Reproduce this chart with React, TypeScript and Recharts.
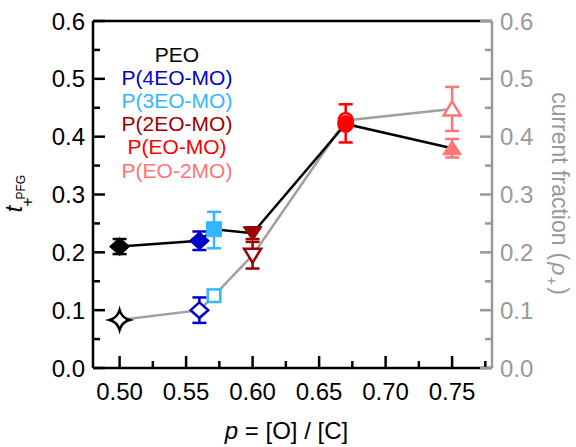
import React from 'react';
import { ComposedChart, Scatter, XAxis, YAxis, ErrorBar } from 'recharts';

const polymers = ['PEO', 'P(4EO-MO)', 'P(3EO-MO)', 'P(2EO-MO)', 'P(EO-MO)', 'P(EO-2MO)'];
const polymerColors = ['#000000', '#0000c8', '#33b6ff', '#9b0000', '#ff0000', '#ff7575'];
const tPlusMarkers = ['diamond', 'diamond', 'square', 'triangleDown', 'circle', 'triangleUp'];
const cfMarkers = ['star', 'diamond', 'square', 'triangleDown', 'circle', 'triangleUp'];
const pValues = [0.5, 0.56, 0.571, 0.6, 0.67, 0.75];
const tPlus = [0.21, 0.22, 0.24, 0.233, 0.422, 0.38];
const tPlusErrLow = [0.013, 0.016, 0.033, 0.01, 0.032, 0.016];
const tPlusErrHigh = [0.013, 0.016, 0.03, 0.01, 0.034, 0.016];
const currentFraction = [0.083, 0.1, 0.125, 0.195, 0.428, 0.448];
const cfErrLow = [0, 0.022, 0, 0.023, 0, 0.038];
const cfErrHigh = [0, 0.022, 0, 0.023, 0, 0.038];
const xMajorTicks = [0.5, 0.55, 0.6, 0.65, 0.7, 0.75];
const xMinorTicks = [0.525, 0.575, 0.625, 0.675, 0.725, 0.775];
const yMajorTicks = [0, 0.1, 0.2, 0.3, 0.4, 0.5, 0.6];
const yMinorTicks = [0.05, 0.15, 0.25, 0.35, 0.45, 0.55];

const W = 576;
const H = 447;
const FONT = '"Liberation Sans", Arial, sans-serif';
const GREY = '#999999';

const xTicks = [...xMajorTicks, ...xMinorTicks].sort((a, b) => a - b);
const yTicks = [...yMajorTicks, ...yMinorTicks].sort((a, b) => a - b);
const isMajorX = (v: number) => xMajorTicks.some((t) => Math.abs(t - v) < 1e-9);
const isMajorY = (v: number) => yMajorTicks.some((t) => Math.abs(t - v) < 1e-9);

const tPlusData = pValues.map((p, i) => ({ p, v: tPlus[i], err: [tPlusErrLow[i], tPlusErrHigh[i]] }));
const cfData = pValues.map((p, i) => ({ p, v: currentFraction[i], err: [cfErrLow[i], cfErrHigh[i]] }));

function drawMarker(kind: string, color: string, filled: boolean, cx: number, cy: number) {
  const fill = filled ? color : '#ffffff';
  const sw = filled ? 1 : 2.5;
  switch (kind) {
    case 'diamond': {
      const w = filled ? 10 : 8.8;
      const h = filled ? 9 : 7.8;
      return (
        <path
          d={`M${cx},${cy - h}L${cx + w},${cy}L${cx},${cy + h}L${cx - w},${cy}Z`}
          fill={fill}
          stroke={color}
          strokeWidth={sw}
          strokeLinejoin="miter"
        />
      );
    }
    case 'star': {
      const r = 10;
      const c = 2.2;
      return (
        <path
          d={`M${cx},${cy - r}Q${cx + c},${cy - c} ${cx + r},${cy}Q${cx + c},${cy + c} ${cx},${cy + r}Q${cx - c},${cy + c} ${cx - r},${cy}Q${cx - c},${cy - c} ${cx},${cy - r}Z`}
          fill={fill}
          stroke={color}
          strokeWidth={sw}
        />
      );
    }
    case 'square': {
      const s = filled ? 7.5 : 6.3;
      return <rect x={cx - s} y={cy - s} width={2 * s} height={2 * s} fill={fill} stroke={color} strokeWidth={sw} />;
    }
    case 'triangleDown': {
      const w = filled ? 9.5 : 8.5;
      const t = 6.5;
      const b = 7.5;
      return (
        <path
          d={`M${cx - w},${cy - t}L${cx + w},${cy - t}L${cx},${cy + b}Z`}
          fill={fill}
          stroke={color}
          strokeWidth={sw}
        />
      );
    }
    case 'triangleUp': {
      const w = filled ? 9.5 : 8.5;
      const t = 7.5;
      const b = 6.5;
      return (
        <path
          d={`M${cx - w},${cy + b}L${cx + w},${cy + b}L${cx},${cy - t}Z`}
          fill={fill}
          stroke={color}
          strokeWidth={sw}
        />
      );
    }
    case 'circle':
    default:
      return <ellipse cx={cx} cy={cy} rx={filled ? 8 : 7} ry={filled ? 8.5 : 7.5} fill={fill} stroke={color} strokeWidth={sw} />;
  }
}

const BottomTick = (props: any) => {
  const { x, y, payload } = props;
  const v = payload.value;
  const major = isMajorX(v);
  return (
    <g>
      <line x1={x} x2={x} y1={y} y2={y - (major ? 12 : 7)} stroke="#000" strokeWidth={2.5} />
      {major && (
        <text x={x} y={y + 32} textAnchor="middle" fontSize={24} fontFamily={FONT} fill="#000">
          {v.toFixed(2)}
        </text>
      )}
    </g>
  );
};

const TopTick = (props: any) => {
  const { x, y, payload } = props;
  const major = isMajorX(payload.value);
  return <line x1={x} x2={x} y1={y} y2={y + (major ? 12 : 7)} stroke="#000" strokeWidth={2.5} />;
};

const LeftTick = (props: any) => {
  const { x, y, payload } = props;
  const v = payload.value;
  const major = isMajorY(v);
  return (
    <g>
      <line x1={x} x2={x + (major ? 12 : 7)} y1={y} y2={y} stroke="#000" strokeWidth={2.5} />
      {major && (
        <text x={x - 8} y={y} dy="0.36em" textAnchor="end" fontSize={24} fontFamily={FONT} fill="#000">
          {v.toFixed(1)}
        </text>
      )}
    </g>
  );
};

const RightTick = (props: any) => {
  const { x, y, payload } = props;
  const v = payload.value;
  const major = isMajorY(v);
  return (
    <g>
      <line x1={x} x2={x - (major ? 12 : 7)} y1={y} y2={y} stroke={GREY} strokeWidth={2.5} />
      {major && (
        <text x={x + 8} y={y} dy="0.36em" textAnchor="start" fontSize={24} fontFamily={FONT} fill={GREY}>
          {v.toFixed(1)}
        </text>
      )}
    </g>
  );
};

const XLabel = (props: any) => {
  const vb = props.viewBox || { x: 93, y: 368, width: 399, height: 79 };
  return (
    <text x={vb.x + vb.width / 2 - 6} y={vb.y + 71} textAnchor="middle" fontSize={24} fontFamily={FONT} fill="#000">
      <tspan fontStyle="italic">p</tspan>
      <tspan> = [O] / [C]</tspan>
    </text>
  );
};

const LeftLabel = (props: any) => {
  const vb = props.viewBox || { x: 0, y: 21, width: 93, height: 347 };
  const cx = vb.x + 22;
  const cy = vb.y + vb.height / 2 - 1;
  return (
    <text transform={`translate(${cx},${cy}) rotate(-90)`} x={0} y={0} textAnchor="middle" fontFamily={FONT} fill="#000">
      <tspan fontSize={23} fontStyle="italic">t</tspan>
      <tspan fontSize={16} dy={11} dx={-1}>+</tspan>
      <tspan fontSize={12} dy={-8} dx={-2}>PFG</tspan>
    </text>
  );
};

const RightLabel = (props: any) => {
  const vb = props.viewBox || { x: 492, y: 21, width: 84, height: 347 };
  const cx = vb.x + 60;
  const cy = vb.y + vb.height / 2 - 1;
  return (
    <text transform={`translate(${cx},${cy}) rotate(90)`} x={0} y={0} textAnchor="middle" fontSize={23} fontFamily={FONT} fill={GREY}>
      <tspan>current fraction</tspan>
      <tspan dx={7}>(</tspan>
      <tspan fontStyle="italic" dx={2}>ρ</tspan>
      <tspan fontSize={15} dy={5} dx={1}>+</tspan>
      <tspan dy={-5} dx={2}>)</tspan>
    </text>
  );
};

const emptyShape = () => <g />;

export default function App() {
  return (
    <div style={{ position: 'absolute', left: 0, top: 0, width: W, height: H, background: '#fff' }}>
      <ComposedChart width={W} height={H} margin={{ top: 0, right: 0, bottom: 0, left: 0 }}>
        <XAxis
          xAxisId="bottom"
          dataKey="p"
          type="number"
          orientation="bottom"
          domain={[0.48, 0.78]}
          ticks={xTicks}
          interval={0}
          height={79}
          tickSize={0}
          tickMargin={0}
          tickLine={false}
          axisLine={{ stroke: '#000', strokeWidth: 2.5 }}
          tick={<BottomTick />}
          label={<XLabel />}
          allowDataOverflow
        />
        <XAxis
          xAxisId="top"
          type="number"
          orientation="top"
          domain={[0.48, 0.78]}
          ticks={xTicks}
          interval={0}
          height={21}
          tickSize={0}
          tickMargin={0}
          tickLine={false}
          axisLine={{ stroke: '#000', strokeWidth: 2.5 }}
          tick={<TopTick />}
          allowDataOverflow
        />
        <YAxis
          yAxisId="left"
          dataKey="v"
          type="number"
          orientation="left"
          domain={[0, 0.6]}
          ticks={yTicks}
          interval={0}
          width={93}
          tickSize={0}
          tickMargin={0}
          tickLine={false}
          axisLine={{ stroke: '#000', strokeWidth: 2.5 }}
          tick={<LeftTick />}
          label={<LeftLabel />}
          allowDataOverflow
        />
        <YAxis
          yAxisId="right"
          dataKey="v"
          type="number"
          orientation="right"
          domain={[0, 0.6]}
          ticks={yTicks}
          interval={0}
          width={84}
          tickSize={0}
          tickMargin={0}
          tickLine={false}
          axisLine={{ stroke: GREY, strokeWidth: 2.5 }}
          tick={<RightTick />}
          label={<RightLabel />}
          allowDataOverflow
        />
        <Scatter
          xAxisId="bottom"
          yAxisId="right"
          data={cfData}
          line={{ stroke: '#a0a0a0', strokeWidth: 2.5 }}
          lineType="joint"
          shape={emptyShape}
          isAnimationActive={false}
        />
        <Scatter
          xAxisId="bottom"
          yAxisId="left"
          data={tPlusData}
          line={{ stroke: '#000', strokeWidth: 2.5 }}
          lineType="joint"
          shape={emptyShape}
          isAnimationActive={false}
        />
        {cfData.map((d, i) => (
          <Scatter
            key={`cf-${i}`}
            xAxisId="bottom"
            yAxisId="right"
            data={[d]}
            isAnimationActive={false}
            shape={(props: any) => drawMarker(cfMarkers[i], polymerColors[i], false, props.cx, props.cy)}
          >
            {cfErrHigh[i] > 0 && (
              <ErrorBar dataKey="err" direction="y" width={7} strokeWidth={2.5} stroke={polymerColors[i]} isAnimationActive={false} />
            )}
          </Scatter>
        ))}
        {tPlusData.map((d, i) => (
          <Scatter
            key={`tp-${i}`}
            xAxisId="bottom"
            yAxisId="left"
            data={[d]}
            isAnimationActive={false}
            shape={(props: any) => drawMarker(tPlusMarkers[i], polymerColors[i], true, props.cx, props.cy)}
          >
            <ErrorBar dataKey="err" direction="y" width={7} strokeWidth={2.5} stroke={polymerColors[i]} isAnimationActive={false} />
          </Scatter>
        ))}
      </ComposedChart>
      <div
        style={{
          position: 'absolute',
          left: 77,
          top: 42.6,
          width: 200,
          textAlign: 'center',
          fontFamily: FONT,
          fontSize: 21,
          lineHeight: '23.2px',
          pointerEvents: 'none',
        }}
      >
        {polymers.map((name, i) => (
          <div key={name} style={{ color: polymerColors[i] }}>
            {name}
          </div>
        ))}
      </div>
    </div>
  );
}
